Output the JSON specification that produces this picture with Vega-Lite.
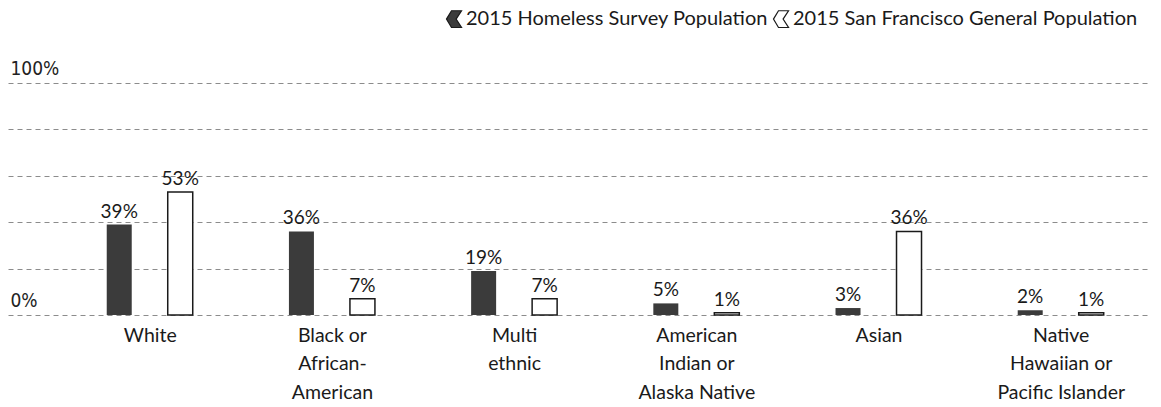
{
  "$schema": "https://vega.github.io/schema/vega-lite/v6.json",
  "autosize": {"type": "none"},
  "width": 1142,
  "height": 232,
  "padding": {"left": 8, "top": 83, "right": 11, "bottom": 92},
  "background": "white",
  "config": {"view": {"stroke": null}, "font": "Lato"},
  "data": {
    "values": [
      {"category": "White", "series": "2015 Homeless Survey Population", "value": 0.39},
      {"category": "White", "series": "2015 San Francisco General Population", "value": 0.53},
      {"category": "Black or African-American", "series": "2015 Homeless Survey Population", "value": 0.36},
      {"category": "Black or African-American", "series": "2015 San Francisco General Population", "value": 0.07},
      {"category": "Multi ethnic", "series": "2015 Homeless Survey Population", "value": 0.19},
      {"category": "Multi ethnic", "series": "2015 San Francisco General Population", "value": 0.07},
      {"category": "American Indian or Alaska Native", "series": "2015 Homeless Survey Population", "value": 0.05},
      {"category": "American Indian or Alaska Native", "series": "2015 San Francisco General Population", "value": 0.01},
      {"category": "Asian", "series": "2015 Homeless Survey Population", "value": 0.03},
      {"category": "Asian", "series": "2015 San Francisco General Population", "value": 0.36},
      {"category": "Native Hawaiian or Pacific Islander", "series": "2015 Homeless Survey Population", "value": 0.02},
      {"category": "Native Hawaiian or Pacific Islander", "series": "2015 San Francisco General Population", "value": 0.01}
    ]
  },
  "encoding": {
    "x": {
      "field": "category",
      "type": "nominal",
      "sort": null,
      "scale": {"paddingInner": 0.5, "paddingOuter": 0.384, "align": 0.691},
      "axis": {
        "title": null,
        "domain": false,
        "ticks": false,
        "tickSize": 0,
        "labelAngle": 0,
        "labelFont": "Lato",
        "labelFontSize": 19.5,
        "labelColor": "#1a1a1a",
        "labelPadding": 11,
        "labelBaseline": "top",
        "labelLineHeight": 28.5,
        "labelLimit": 0,
        "labelExpr": "datum.label == 'Black or African-American' ? ['Black or','African-','American'] : datum.label == 'Multi ethnic' ? ['Multi','ethnic'] : datum.label == 'American Indian or Alaska Native' ? ['American','Indian or','Alaska Native'] : datum.label == 'Native Hawaiian or Pacific Islander' ? ['Native','Hawaiian or','Pacific Islander'] : datum.label"
      }
    },
    "y": {
      "field": "value",
      "type": "quantitative",
      "scale": {"domain": [0, 1]},
      "axis": {
        "title": null,
        "values": [0, 0.2, 0.4, 0.6, 0.8, 1],
        "domain": false,
        "ticks": false,
        "tickSize": 0,
        "grid": true,
        "gridDash": [5, 4],
        "gridColor": "#8c8c8c",
        "gridWidth": 1,
        "labelExpr": "datum.value == 0 || datum.value == 1 ? format(datum.value, '.0%') : ''",
        "labelAlign": "left",
        "labelBaseline": "bottom",
        "labelPadding": -2,
        "labelOffset": -5,
        "labelFont": "DejaVu Sans Condensed",
        "labelFontSize": 19,
        "labelColor": "#222222",
        "labelOverlap": false
      }
    },
    "fill": {
      "field": "series",
      "type": "nominal",
      "scale": {
        "domain": ["2015 Homeless Survey Population", "2015 San Francisco General Population"],
        "range": ["#3b3b3b", "#ffffff"]
      },
      "legend": {
        "title": null,
        "orient": "none",
        "direction": "horizontal",
        "legendX": 436,
        "legendY": -74,
        "symbolType": "M-0.3,-1L0.9,-1L0.25,0L0.9,1L-0.3,1L-0.9,0Z",
        "symbolSize": 280,
        "symbolStrokeColor": "#1a1a1a",
        "symbolStrokeWidth": 1.2,
        "labelFont": "Lato",
        "labelFontSize": 20,
        "labelColor": "#1a1a1a",
        "labelOffset": 2,
        "columnPadding": 3,
        "labelLimit": 0
      }
    }
  },
  "layer": [
    {
      "transform": [{"filter": "datum.series == '2015 Homeless Survey Population'"}],
      "mark": {"type": "bar", "width": 25, "xOffset": -31, "stroke": null}
    },
    {
      "transform": [{"filter": "datum.series == '2015 San Francisco General Population'"}],
      "mark": {"type": "bar", "width": 25, "xOffset": 30, "stroke": "#1a1a1a", "strokeWidth": 1.5}
    },
    {
      "transform": [{"filter": "datum.series == '2015 Homeless Survey Population'"}],
      "mark": {"type": "text", "xOffset": -31, "dy": -3, "baseline": "bottom", "fontSize": 19, "font": "Lato"},
      "encoding": {"text": {"field": "value", "type": "quantitative", "format": ".0%"}, "fill": {"value": "#1a1a1a"}}
    },
    {
      "transform": [{"filter": "datum.series == '2015 San Francisco General Population'"}],
      "mark": {"type": "text", "xOffset": 30, "dy": -3, "baseline": "bottom", "fontSize": 19, "font": "Lato"},
      "encoding": {"text": {"field": "value", "type": "quantitative", "format": ".0%"}, "fill": {"value": "#1a1a1a"}}
    }
  ]
}
